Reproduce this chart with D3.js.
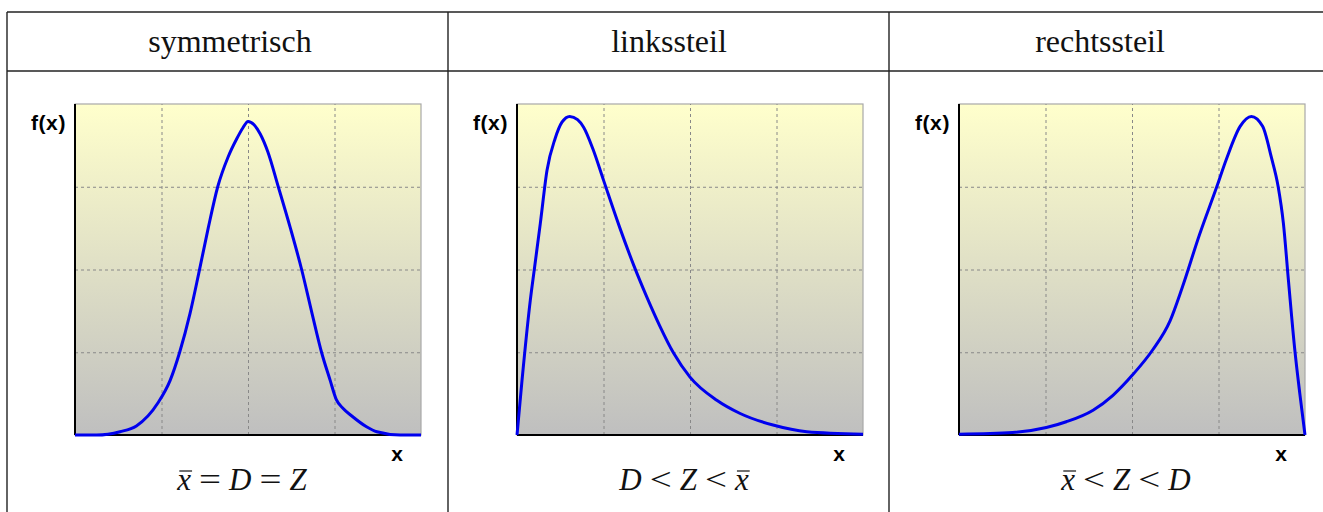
<!DOCTYPE html>
<html lang="de">
<head>
<meta charset="UTF-8">
<title>Schiefe von Verteilungen</title>
<style>
    body { margin: 0; padding: 0; background: #fff; }
    svg { display: block; }
</style>
</head>
<body>
<div id="chart"></div>
<script src="https://d3js.org/d3.v7.min.js"></script>
<script>
// Column headings and formulas below each plot
const headings = ['symmetrisch', 'linkssteil', 'rechtssteil'];
const formulas = [
    [{t: 'x', bar: true}, {t: '='}, {t: 'D', it: true}, {t: '='}, {t: 'Z', it: true}],
    [{t: 'D', it: true}, {t: '<'}, {t: 'Z', it: true}, {t: '<'}, {t: 'x', bar: true}],
    [{t: 'x', bar: true}, {t: '<'}, {t: 'Z', it: true}, {t: '<'}, {t: 'D', it: true}]
];

// Curves (x and f(x) in grid units 0..4)
const symX = [0, 0.25, 0.52, 0.71, 0.96, 1.10, 1.21, 1.33, 1.43, 1.54, 1.65, 1.77, 1.87, 1.94, 2.0, 2.07, 2.14, 2.23, 2.35, 2.49, 2.62, 2.74, 2.85, 2.95, 3.02, 3.1, 3.2, 3.37, 3.49, 3.76, 4.0];
const symY = [0, 0, 0.04, 0.11, 0.39, 0.66, 1.0, 1.47, 1.95, 2.5, 3.0, 3.36, 3.58, 3.71, 3.79, 3.75, 3.64, 3.42, 3.0, 2.5, 2.0, 1.47, 1.0, 0.66, 0.43, 0.32, 0.23, 0.10, 0.04, 0, 0];

const linksX = [0, 0.058, 0.154, 0.2, 0.27, 0.347, 0.44, 0.52, 0.61, 0.70, 0.77, 0.88, 1.0, 1.19, 1.35, 1.5, 1.65, 1.81, 2.0, 2.31, 2.58, 2.96, 3.35, 4.0];
const linksY = [0, 0.66, 1.63, 2.0, 2.56, 3.2, 3.58, 3.78, 3.85, 3.81, 3.72, 3.45, 3.08, 2.5, 2.05, 1.67, 1.32, 0.99, 0.70, 0.42, 0.26, 0.12, 0.04, 0.01];

const rechtsX = [0, 0.62, 1.01, 1.24, 1.55, 1.78, 2.01, 2.24, 2.44, 2.58, 2.78, 2.98, 3.09, 3.25, 3.38, 3.51, 3.61, 3.69, 3.75, 3.81, 3.88, 3.94, 4.0];
const rechtsY = [0.01, 0.03, 0.09, 0.16, 0.30, 0.48, 0.73, 1.03, 1.38, 1.78, 2.42, 3.0, 3.33, 3.73, 3.85, 3.73, 3.36, 3.0, 2.56, 1.85, 1.05, 0.5, 0];

const gridTicks = [1, 2, 3];
const series = [[symX, symY], [linksX, linksY], [rechtsX, rechtsY]];

const width = 1323, height = 512;
const colLines = [7, 448, 889];
const headerCenters = [230, 669, 1100];
const plotLeft = [75, 517, 959];
const plotTop = 104, plotW = 346, plotH = 331;

const svg = d3.select('#chart').append('svg')
    .attr('width', width)
    .attr('height', height);

const defs = svg.append('defs');
const grad = defs.append('linearGradient')
    .attr('id', 'bg').attr('x1', 0).attr('y1', 0).attr('x2', 0).attr('y2', 1);
grad.append('stop').attr('offset', '0%').attr('stop-color', '#ffffcc');
grad.append('stop').attr('offset', '100%').attr('stop-color', '#bfbfbf');

// table
const tbl = svg.append('g').attr('stroke', '#222').attr('stroke-width', 1.4);
[12, 71].forEach(y => tbl.append('line').attr('x1', 7).attr('x2', width).attr('y1', y).attr('y2', y));
colLines.forEach(x => tbl.append('line').attr('x1', x).attr('x2', x).attr('y1', 12).attr('y2', height));

svg.selectAll('.heading')
    .data(headings)
    .join('text')
    .attr('class', 'heading')
    .attr('x', (d, i) => headerCenters[i])
    .attr('y', 52)
    .attr('text-anchor', 'middle')
    .attr('font-family', '"Liberation Serif", "Times New Roman", serif')
    .attr('font-size', 32)
    .attr('fill', '#111')
    .text(d => d);

const x = d3.scaleLinear().domain([0, 4]).range([0, plotW]);
const y = d3.scaleLinear().domain([0, 4]).range([plotH, 0]);

const line = d3.line()
    .x(d => x(d[0]))
    .y(d => y(d[1]))
    .curve(d3.curveMonotoneX);

series.forEach(([xs, ys], i) => {
    const g = svg.append('g').attr('transform', `translate(${plotLeft[i]},${plotTop})`);

    g.append('rect')
        .attr('width', plotW).attr('height', plotH)
        .attr('fill', 'url(#bg)')
        .attr('stroke', '#a8a8a8').attr('stroke-width', 1.2);

    // dashed grid
    g.append('g')
        .attr('transform', `translate(0,${plotH})`)
        .call(d3.axisBottom(x).tickValues(gridTicks).tickSize(-plotH).tickFormat(''))
        .call(a => a.select('.domain').remove())
        .call(a => a.selectAll('line').attr('stroke', '#888').attr('stroke-dasharray', '3,3'));
    g.append('g')
        .call(d3.axisLeft(y).tickValues(gridTicks).tickSize(-plotW).tickFormat(''))
        .call(a => a.select('.domain').remove())
        .call(a => a.selectAll('line').attr('stroke', '#888').attr('stroke-dasharray', '3,3'));

    // axes
    g.append('line').attr('x1', 0).attr('x2', 0).attr('y1', 0).attr('y2', plotH)
        .attr('stroke', '#000').attr('stroke-width', 2);
    g.append('line').attr('x1', 0).attr('x2', plotW).attr('y1', plotH).attr('y2', plotH)
        .attr('stroke', '#000').attr('stroke-width', 2);

    g.append('path')
        .datum(xs.map((v, k) => [v, ys[k]]))
        .attr('fill', 'none')
        .attr('stroke', '#0000ee')
        .attr('stroke-width', 3)
        .attr('stroke-linejoin', 'round')
        .attr('d', line);

    g.append('text')
        .attr('x', -9).attr('y', 26)
        .attr('text-anchor', 'end')
        .attr('font-family', '"Liberation Sans", Arial, sans-serif')
        .attr('font-weight', 'bold')
        .attr('font-size', 21)
        .attr('letter-spacing', 0.6)
        .text('f(x)');

    g.append('text')
        .attr('x', plotW - 24).attr('y', plotH + 26)
        .attr('text-anchor', 'middle')
        .attr('font-family', '"Liberation Sans", Arial, sans-serif')
        .attr('font-weight', 'bold')
        .attr('font-size', 21)
        .text('x');

    // formula, laid out piece by piece
    const fg = g.append('g');
    const gap = 8;
    let cx = 0;
    const parts = formulas[i].map(p => {
        const rel = !(p.it || p.bar);
        const t = fg.append('text')
            .attr('y', plotH + 55)
            .attr('font-family', '"Liberation Serif", "Times New Roman", serif')
            .attr('font-size', 31)
            .attr('font-style', rel ? 'normal' : 'italic')
            .attr('fill', '#111')
            .text(p.t);
        if (rel) t.attr('textLength', 22).attr('lengthAdjust', 'spacingAndGlyphs');
        const w = rel ? 22 : t.node().getComputedTextLength();
        t.attr('x', cx);
        const start = cx;
        cx += w + gap;
        return {p, start, w};
    });
    const total = cx - gap;
    fg.attr('transform', `translate(${plotW / 2 - 6 - total / 2},0)`);
    parts.filter(d => d.p.bar).forEach(d => {
        fg.append('line')
            .attr('x1', d.start + 2).attr('x2', d.start + d.w + 1)
            .attr('y1', plotH + 36).attr('y2', plotH + 36)
            .attr('stroke', '#111').attr('stroke-width', 1.2);
    });
});
</script>
</body>
</html>
